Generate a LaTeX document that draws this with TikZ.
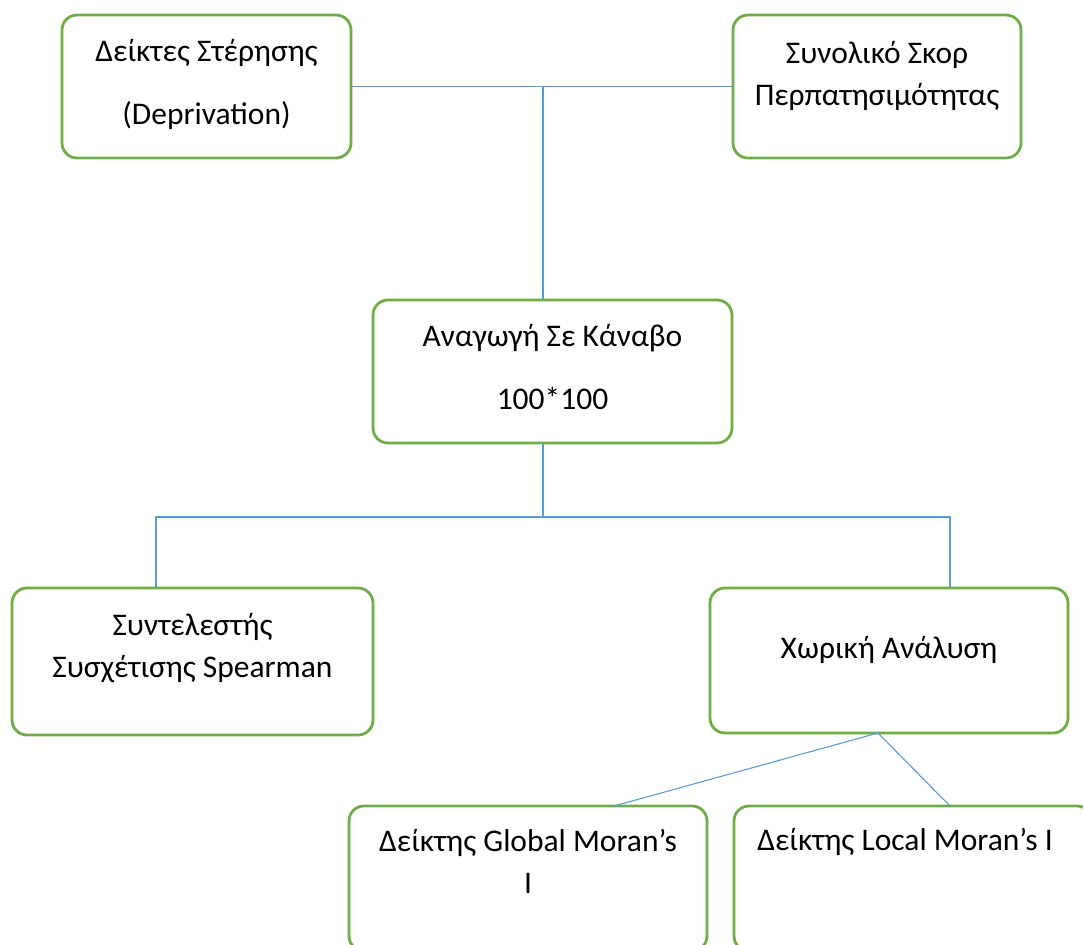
\documentclass[tikz,border=0pt]{standalone}
\usepackage{fontspec}
\setmainfont{Carlito}
\usepackage{xcolor}
\definecolor{boxgreen}{RGB}{112,173,71}
\definecolor{linkblue}{RGB}{91,155,213}
\usetikzlibrary{calc}

\begin{document}
\begin{tikzpicture}[x=1pt, y=-1pt,
  box/.style={draw=boxgreen, line width=2.8pt, rounded corners=15pt, fill=white, inner sep=0pt},
  lbl/.style={font=\fontsize{31.5}{42}\selectfont, align=center, anchor=base, inner sep=0pt},
  link/.style={draw=linkblue, line width=1.1pt}]
  \clip (0,0) rectangle (1083,944);
  \fill[white] (0,0) rectangle (1083,944);

  % Top row: inputs
  \node[box, minimum width=289, minimum height=143] (dep) at (206.5,86.5) {};
  \node[lbl] (tdep) at ($(dep.north)+(0,111)$) {Δείκτες Στέρησης\\[21pt](Deprivation)};
  \node[box, minimum width=288, minimum height=143] (walk) at (877,86.5) {};
  \node[lbl] (twalk) at ($(walk.north)+(0,92)$) {Συνολικό Σκορ\\Περπατησιμότητας};

  % Middle: grid
  \node[box, minimum width=359, minimum height=143] (grid) at (552.5,371.5) {};
  \node[lbl] (tgrid) at ($(grid.north)+(0,111)$) {Αναγωγή Σε Κάναβο\\[21pt]100*100};

  % Analysis row
  \node[box, minimum width=361, minimum height=147] (spear) at (192.5,661.5) {};
  \node[lbl] (tspear) at ($(spear.north)+(0,91)$) {Συντελεστής\\Συσχέτισης Spearman};
  \node[box, minimum width=358, minimum height=145] (spatial) at (889,660.5) {};
  \node[lbl] (tspatial) at ($(spatial.north)+(0,72)$) {Χωρική Ανάλυση};

  % Bottom row: Moran indices
  \node[box, minimum width=358, minimum height=145] (global) at (528,878.5) {};
  \node[lbl] (tglobal) at ($(global.north)+(0,89)$) {Δείκτης Global Moran’s\\I};
  \node[box, minimum width=358, minimum height=145] (local) at (913,878.5) {};
  \node[lbl] (tlocal) at ($(local.north)+(-8,46)$) {Δείκτης Local Moran’s I};

  % Connectors
  \coordinate (jtop) at (543,86.5);
  \coordinate (jbot) at (543,517);
  \coordinate (jleft) at (156,517);
  \coordinate (jright) at (950,517);
  \coordinate (jsp) at (878,733);
  \coordinate (gtop) at (614,806);
  \coordinate (ltop) at (950,806);
  \draw[link] (dep.east) -- (walk.west);
  \draw[link] (jtop) -- (jtop |- grid.north);
  \draw[link] (jbot |- grid.south) -- (jbot);
  \draw[link] (jleft |- spear.north) -- (jleft) -- (jright) -- (jright |- spatial.north);
  \draw[link] (gtop) -- (jsp) -- (ltop);
\end{tikzpicture}
\end{document}
